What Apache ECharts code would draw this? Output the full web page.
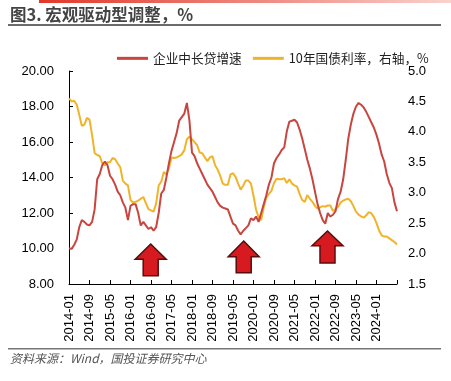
<!DOCTYPE html>
<html>
<head>
<meta charset="utf-8">
<script src="https://cdn.jsdelivr.net/npm/echarts@6/dist/echarts.min.js"></script>
<style>
html,body{margin:0;padding:0;background:#fff;}
#c{width:451px;height:381px;}
</style>
</head>
<body>
<div id="c"></div>
<script>
// Months 2014-01 .. 2024-09
var categories = [];
for (var y = 2014; y <= 2024; y++) {
  for (var m = 1; m <= 12; m++) {
    if (y === 2024 && m > 9) break;
    categories.push(y + '-' + (m < 10 ? '0' + m : m));
  }
}
var seriesNames = ['企业中长贷增速', '10年国债利率，右轴，%'];
var loanGrowth = [
  10.0, 9.98, 10.2, 10.5, 11.2, 11.6, 11.5, 11.35, 11.3, 11.5,
  12.2, 13.9, 14.2, 14.7, 14.9, 14.7, 14.1, 13.9, 13.6, 13.2,
  13.0, 12.6, 12.3, 11.6, 12.4, 12.5, 12.5, 12.0, 11.3, 11.5,
  11.3, 11.1, 11.2, 11.0, 11.2, 12.0, 13.1, 13.3, 14.0, 14.8,
  15.5, 16.0, 16.5, 17.2, 17.4, 17.6, 18.2, 17.2, 15.4, 15.2,
  14.8, 14.5, 14.2, 13.9, 13.6, 13.4, 13.2, 12.9, 12.6, 12.4,
  12.3, 12.25, 12.2, 11.8, 11.4, 11.3, 11.0, 10.8, 11.0, 11.15,
  11.3, 11.7, 11.6, 11.8, 11.5, 12.0, 12.5, 13.0, 13.6, 14.0,
  14.8, 15.1, 15.3, 15.55, 15.7, 16.6, 17.15, 17.2, 17.25, 17.1,
  16.7, 16.2, 15.6, 15.0, 14.5, 13.9, 13.2, 12.5, 12.0, 11.6,
  11.4, 12.0, 11.8, 11.9, 12.1, 12.8, 13.2, 13.9, 15.0, 16.2,
  17.0, 17.6, 18.0, 18.2, 18.1, 17.95, 17.7, 17.4, 17.1, 16.8,
  16.4, 15.9, 15.3, 14.9, 14.2, 13.7, 13.4, 12.6, 12.1
];
var bondYield = [
  4.55, 4.50, 4.51, 4.45, 4.28, 4.10, 4.12, 4.23, 4.20, 3.95,
  3.65, 3.62, 3.60, 3.48, 3.45, 3.50, 3.50, 3.57, 3.55, 3.48,
  3.42, 3.20, 3.15, 3.12, 2.88, 2.84, 2.85, 2.87, 2.90, 2.93,
  2.83, 2.73, 2.71, 2.69, 2.82, 3.12, 3.18, 3.34, 3.30, 3.40,
  3.58, 3.57, 3.58, 3.60, 3.63, 3.70, 3.88, 3.92, 3.88, 3.83,
  3.78, 3.66, 3.65, 3.58, 3.52, 3.58, 3.60, 3.45, 3.38, 3.28,
  3.15, 3.13, 3.13, 3.30, 3.32, 3.26, 3.15, 3.05, 3.12, 3.20,
  3.20, 3.15, 2.95, 2.72, 2.60, 2.55, 2.76, 2.92, 2.98, 3.03,
  3.16, 3.23, 3.22, 3.22, 3.24, 3.16, 3.22, 3.15, 3.12, 3.10,
  2.98, 2.88, 2.85, 2.96, 2.90, 2.85, 2.78, 2.74, 2.76, 2.78,
  2.77, 2.79, 2.79, 2.70, 2.73, 2.77, 2.84, 2.87, 2.89, 2.90,
  2.86, 2.78, 2.69, 2.64, 2.61, 2.59, 2.63, 2.68, 2.66, 2.60,
  2.50, 2.38, 2.30, 2.28, 2.28, 2.25, 2.22, 2.19, 2.15
];

var chart = echarts.init(document.getElementById('c'), null, {renderer: 'canvas'});
var FONT = '"Liberation Sans", Arial, "Noto Sans CJK SC", sans-serif';
var CJK = '"Noto Sans CJK SC", "Liberation Sans", sans-serif';

function arrow(cx, tipY, baseY, bottomY) {
  return {
    type: 'polygon',
    shape: {points: [
      [cx, tipY], [cx + 15.5, baseY], [cx + 7.5, baseY], [cx + 7.5, bottomY],
      [cx - 7.5, bottomY], [cx - 7.5, baseY], [cx - 15.5, baseY]
    ]},
    style: {fill: '#d71a20', stroke: '#5c0b0b', lineWidth: 1.5},
    z: 10
  };
}

chart.setOption({
  animation: false,
  backgroundColor: '#fff',
  textStyle: {fontFamily: FONT},
  grid: {left: 69, right: 54, top: 71, bottom: 97, containLabel: false},
  legend: {
    left: 112, top: 47,
    icon: 'rect',
    itemWidth: 31, itemHeight: 3, itemGap: 11,
    textStyle: {fontFamily: CJK, fontSize: 12.7, color: '#222'},
    data: seriesNames
  },
  xAxis: {
    type: 'category',
    data: categories,
    boundaryGap: false,
    axisLine: {show: true, lineStyle: {color: '#000', width: 1}},
    axisTick: {show: true, inside: true, length: 4, lineStyle: {color: '#000'},
      interval: function (i) { return i % 8 === 0; }},
    axisLabel: {
      rotate: 90, fontSize: 13, color: '#000', margin: 10, fontFamily: FONT,
      interval: function (i) { return i % 8 === 0 && i <= 120; }
    },
    splitLine: {show: false}
  },
  yAxis: [
    {
      type: 'value', min: 8, max: 20, interval: 2,
      axisLine: {show: true, lineStyle: {color: '#000', width: 1}},
      axisTick: {show: true, inside: true, length: 4, lineStyle: {color: '#000'}},
      axisLabel: {fontSize: 13, color: '#000', margin: 15, fontFamily: FONT,
        formatter: function (v) { return v.toFixed(2); }},
      splitLine: {show: false}
    },
    {
      type: 'value', min: 1.5, max: 5.0, interval: 0.5,
      position: 'right',
      axisLine: {show: false},
      axisTick: {show: false},
      axisLabel: {fontSize: 13, color: '#000', margin: 11, fontFamily: FONT,
        formatter: function (v) { return v.toFixed(1); }},
      splitLine: {show: false}
    }
  ],
  series: [
    {
      name: seriesNames[0], type: 'line', yAxisIndex: 0,
      data: loanGrowth, symbol: 'none', smooth: false,
      lineStyle: {color: '#c8463f', width: 2},
      itemStyle: {color: '#c8463f'}, z: 3
    },
    {
      name: seriesNames[1], type: 'line', yAxisIndex: 1,
      data: bondYield, symbol: 'none', smooth: false,
      lineStyle: {color: '#f0b42a', width: 2},
      itemStyle: {color: '#f0b42a'}, z: 2
    }
  ],
  graphic: [
    {
      type: 'rect', shape: {x: 39, y: 0, width: 412, height: 3},
      style: {fill: new echarts.graphic.LinearGradient(0, 0, 1, 0, [
        {offset: 0, color: '#e2372a'}, {offset: 1, color: '#f9d2cc'}])}
    },
    {
      type: 'text', left: 10, top: 6,
      style: {text: '图3. 宏观驱动型调整，%', font: 'bold 16.5px "Noto Sans CJK SC", sans-serif', fill: '#444'}
    },
    {
      type: 'rect', shape: {x: 8, y: 24, width: 433, height: 2},
      style: {fill: '#6b6b6b'}
    },
    {
      type: 'rect', shape: {x: 8, y: 348, width: 433, height: 1.5},
      style: {fill: '#777'}
    },
    {
      type: 'text', left: 10, top: 352,
      style: {text: '资料来源：Wind，国投证券研究中心', font: 'italic 12px "Noto Sans CJK SC", sans-serif', fill: '#555'}
    },
    arrow(150.7, 244, 259.3, 275.7),
    arrow(243.7, 241, 256.7, 272.7),
    arrow(327.5, 231, 245.7, 263)
  ]
});
</script>
</body>
</html>
